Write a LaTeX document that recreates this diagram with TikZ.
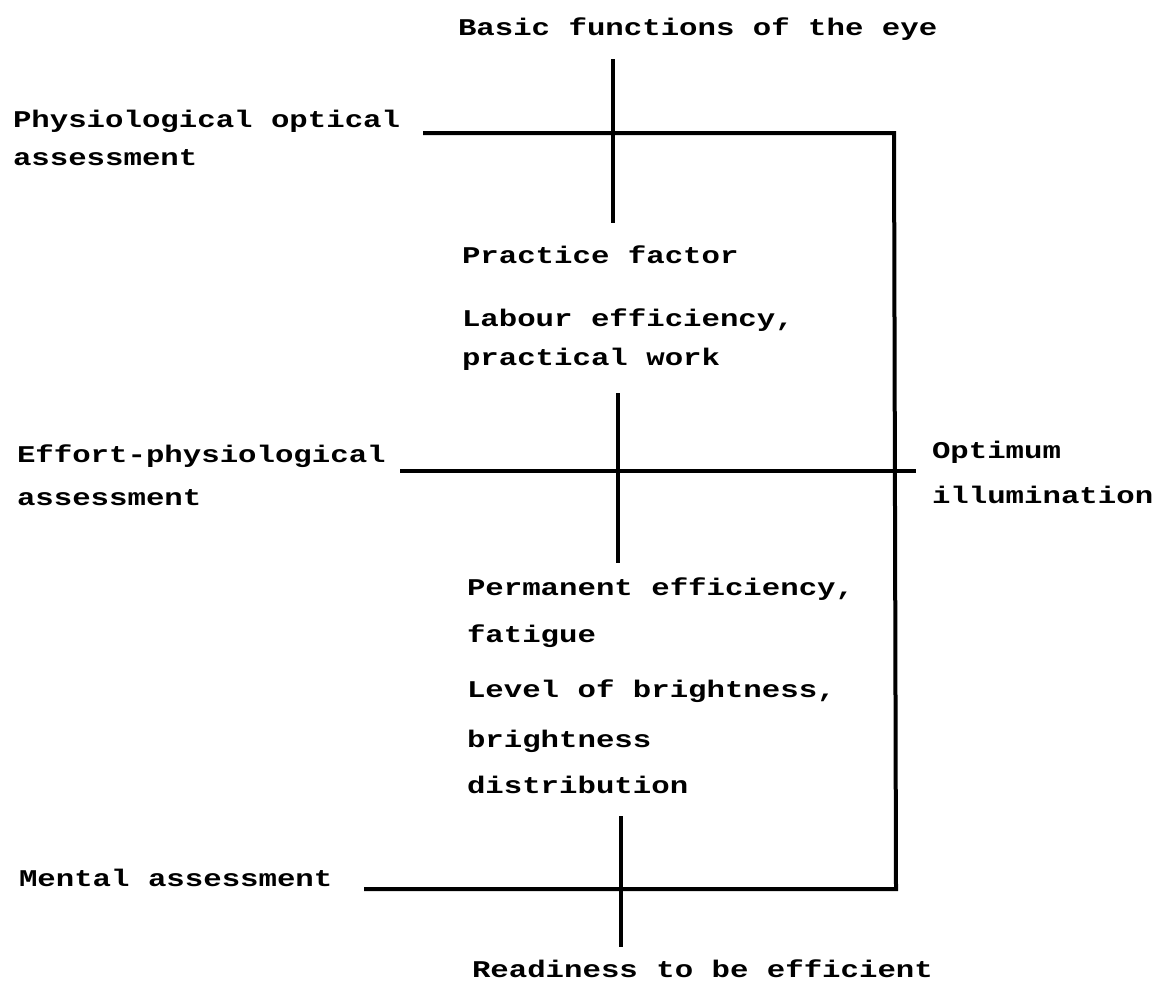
\documentclass[tikz,border=0pt]{standalone}
\usepackage{fontspec}
\newfontfamily\tw{Liberation Mono}[FakeStretch=1.28, UprightFont={* Bold}]
\tikzset{
  lbl/.style={inner sep=0pt, outer sep=0pt, anchor=base west, font=\tw\fontsize{24}{24}\selectfont},
  rule/.style={line width=4pt, line cap=butt, line join=miter}
}
\begin{document}
\begin{tikzpicture}[x=1pt,y=-1pt]
\useasboundingbox[fill=white] (0,0) rectangle (1153,980);
% texts
\node[lbl] (title) at (458,35) {Basic functions of the eye};
\node[lbl] (po1) at (13,127) {Physiological optical};
\node[lbl] (po2) at (13,165) {assessment};
\node[lbl] (pf) at (462,263) {Practice factor};
\node[lbl] (le1) at (462,326) {Labour efficiency,};
\node[lbl] (le2) at (462,365) {practical work};
\node[lbl] (ep1) at (17,462) {Effort-physiological};
\node[lbl] (ep2) at (17,505) {assessment};
\node[lbl] (oi1) at (932,458) {Optimum};
\node[lbl] (oi2) at (932,503) {illumination};
\node[lbl] (pe1) at (467,595) {Permanent efficiency,};
\node[lbl] (pe2) at (467,642) {fatigue};
\node[lbl] (lb1) at (467,697) {Level of brightness,};
\node[lbl] (lb2) at (467,747) {brightness};
\node[lbl] (lb3) at (467,793) {distribution};
\node[lbl] (ma) at (19,886) {Mental assessment};
\node[lbl] (rd) at (472,977) {Readiness to be efficient};
% line end points
\coordinate (a1) at (613,59);
\coordinate (a2) at (613,223);
\coordinate (h1) at (423,133);
\coordinate (c1) at (894,133);
\coordinate (c2) at (896,889);
\coordinate (h3) at (364,889);
\coordinate (h2a) at (400,471);
\coordinate (h2b) at (916,471);
\coordinate (b1) at (618,393);
\coordinate (b2) at (618,563);
\coordinate (d1) at (621,816);
\coordinate (d2) at (621,947);
% lines
\draw[rule] (a1) -- (a2);
\draw[rule] (h1) -- (c1) -- (c2) -- (h3);
\draw[rule] (h2a) -- (h2b);
\draw[rule] (b1) -- (b2);
\draw[rule] (d1) -- (d2);
\end{tikzpicture}
\end{document}
